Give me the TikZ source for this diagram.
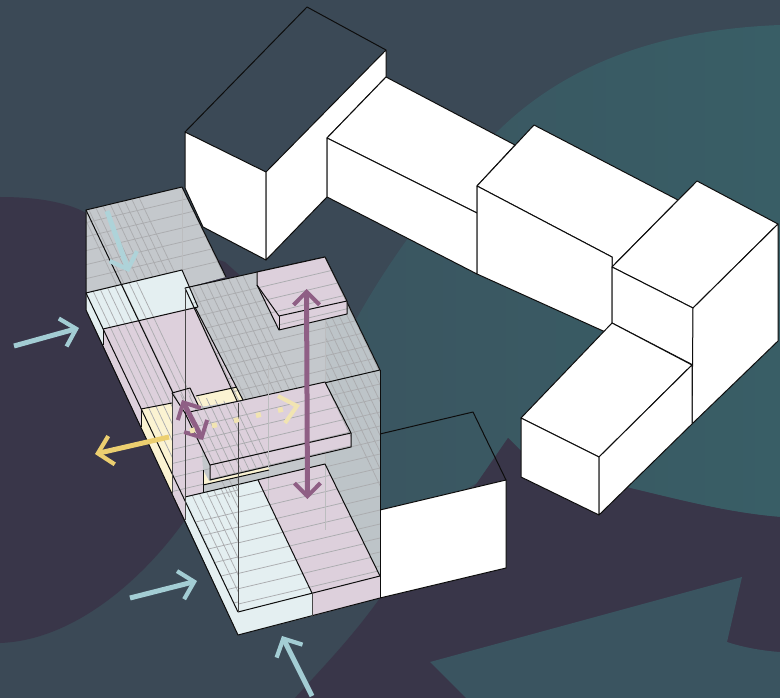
\documentclass[tikz,border=0pt]{standalone}
\usetikzlibrary{arrows.meta}
\definecolor{bgbase}{HTML}{3B4956}
\definecolor{bgpurple}{HTML}{393649}
\definecolor{bgteal}{HTML}{3A5560}
\definecolor{bgtealb}{HTML}{395E66}
\definecolor{bgarrow}{HTML}{3A5460}
\definecolor{glass}{HTML}{C4C8CC}
\definecolor{glassb}{HTML}{BDC4C8}
\definecolor{pinkf}{HTML}{DDD0DC}
\definecolor{palef}{HTML}{E4EFF1}
\definecolor{yellowf}{HTML}{FBF3D2}
\definecolor{gridc}{HTML}{ABACAF}
\definecolor{tealar}{HTML}{A3CDD4}
\definecolor{pinkar}{HTML}{8F5F85}
\definecolor{yellowar}{HTML}{ECCF70}
\definecolor{dotar}{HTML}{F1E4B2}
\newcommand\slopes[4]{\foreach \k in {0,...,#3}{\draw[gl] ({#1-400},{#2+\k*#4+94.4}) -- ({#1+400},{#2+\k*#4-94.4});}}
\newcommand\diags[4]{\foreach \k in {0,...,#3}{\draw[gl] ({#1+\k*#4-150},{#2-315}) -- ({#1+\k*#4+150},{#2+315});}}
\tikzset{
  edge/.style={draw=black!95,line width=1pt,line join=round},
  wall/.style={edge,fill=white},
  gl/.style={draw=gridc,line width=.75pt},
  vline/.style={draw=black!72,line width=1pt},
  faint/.style={draw=gridc!80,line width=.75pt},
  ar/.style={line width=5pt},
  tealarrow/.style={ar,draw=tealar,-{Straight Barb[length=14pt,width=29pt,line width=4.2pt]}},
  yarrow/.style={ar,draw=yellowar,-{Straight Barb[length=14pt,width=29pt,line width=4.2pt]}},
  parrow/.style={ar,draw=pinkar,{Straight Barb[length=13pt,width=26pt,line width=4pt]}-{Straight Barb[length=13pt,width=26pt,line width=4pt]}}
}
\begin{document}
\begin{tikzpicture}[x=1pt,y=-1pt]
\useasboundingbox (0,0) rectangle (780,698);
\clip (0,0) rectangle (780,698);
% background
\fill[bgbase] (0,0) rectangle (780,698);
\shade[left color=bgteal,right color=bgtealb] (780,25) .. controls (650,30) and (550,70) .. (480,150) .. controls (430,205) and (380,270) .. (340,350) -- (330,560) -- (477,483) -- (508,438) -- (533,463) -- (630,488) .. controls (680,500) and (730,513) .. (780,517) -- cycle;
\fill[bgpurple] (0,197) .. controls (40,197) and (70,203) .. (90,215) -- (225,262) -- (245,280) -- (185,520) .. controls (150,570) and (80,640) .. (0,643) -- cycle;
\fill[bgpurple] (508,438) -- (533,463) -- (630,488) .. controls (680,500) and (730,513) .. (780,517) -- (780,698) -- (295,698) .. controls (320,670) and (350,640) .. (380,598) -- (477,483) -- cycle;
\fill[bgarrow] (430,662) -- (742,577) -- (727,642) .. controls (745,648) and (765,651) .. (780,652) -- (780,698) -- (466,698) -- cycle;
% white blocks
\draw[edge] (185,132) -- (307,7) -- (386,50);
\draw[wall] (185,132) -- (266,172) -- (266,260) -- (203,227) -- (185,188) -- cycle;
\draw[wall] (266,172) -- (386,50) -- (386,77) -- (327,138) -- (327,197) -- (266,260) -- cycle;
\draw[wall] (327,138) -- (386,77) -- (515,145) -- (477,186) -- (477,213) -- cycle;
\draw[wall] (327,138) -- (477,213) -- (477,274) -- (327,197) -- cycle;
\draw[wall] (477,186) -- (534,125) -- (678,200) -- (612,267) -- (612,257) -- cycle;
\draw[wall] (477,186) -- (612,257) -- (612,335) -- (477,274) -- cycle;
\draw[wall] (612,267) -- (697,181) -- (778,224) -- (693,308) -- cycle;
\draw[wall] (612,267) -- (693,308) -- (693,365) -- (612,323) -- cycle;
\draw[wall] (693,308) -- (778,224) -- (778,341) -- (692,424) -- cycle;
\draw[wall] (521,418) -- (612,323) -- (692,365) -- (599,457) -- cycle;
\draw[wall] (521,418) -- (599,457) -- (599,515) -- (521,477) -- cycle;
\draw[wall] (599,457) -- (692,365) -- (692,424) -- (599,515) -- cycle;
\draw[edge] (380,434) -- (473,412) -- (506,480);
\draw[wall] (380,510) -- (506,480) -- (506,568) -- (380,598) -- cycle;
% rear glass
\fill[glass] (86,210) -- (182,187) -- (226,277) -- (185,288) -- (182,270) -- (86,293) -- cycle;
\begin{scope}
\clip (86,210) -- (182,187) -- (226,277) -- (185,288) -- (182,270) -- (86,293) -- cycle;
\slopes{182}{200}{5}{14}
\diags{182}{187}{6}{8}
\diags{70}{187}{8}{8}
\draw[faint] (182,187) -- (182,270);
\end{scope}
\fill[glass] (185,288) -- (325,257) -- (380,370) -- (380,576) -- (185,520) -- cycle;
\fill[glassb] (325,257) -- (380,370) -- (380,576) -- (325,464) -- cycle;
% floors and faces
\fill[palef] (86,293) -- (182,270) -- (198,307) -- (103,329) -- cycle;
\fill[palef] (86,293) -- (103,329) -- (103,345) -- (86,310) -- cycle;
\fill[pinkf] (103,329) -- (195,307) -- (243,400) -- (199,407) -- (203,470) -- (203,493) -- (185,497) -- (185,520) -- (172,494) -- (172,403) -- (141,409) -- (141,427) -- (103,345) -- cycle;
\fill[yellowf] (141,409) -- (172,403) -- (172,494) -- (141,427) -- cycle;
\fill[yellowf] (196,396) -- (237,387) -- (243,400) -- (199,407) -- cycle;
\fill[palef] (185,497) -- (258,480) -- (312,593) -- (238,612) -- cycle;
\fill[palef] (185,497) -- (238,612) -- (238,635) -- (185,520) -- cycle;
\fill[palef] (238,612) -- (312,593) -- (312,616) -- (238,635) -- cycle;
\fill[pinkf] (258,480) -- (325,464) -- (380,576) -- (312,593) -- cycle;
\fill[pinkf] (312,593) -- (380,576) -- (380,598) -- (312,616) -- cycle;
% grids
\begin{scope}
\clip (86,293) -- (138,281) -- (195,395) -- (172,403) -- (172,494) -- (141,427) -- (103,345) -- cycle;
\diags{94}{293}{6}{8}
\end{scope}
\begin{scope}
\clip (103,329) -- (195,307) -- (198,320) -- (103,345) -- cycle;
\slopes{182}{280}{1}{14}
\end{scope}
\begin{scope}
\clip (185,288) -- (325,257) -- (380,370) -- (238,403) -- cycle;
\slopes{325}{272}{7}{14}
\diags{185}{288}{8}{8}
\diags{325}{257}{6}{8}
\end{scope}
\begin{scope}
\clip (325,257) -- (380,370) -- (380,576) -- (325,464) -- cycle;
\slopes{380}{384}{13}{14}
\diags{325}{257}{6}{8}
\diags{325}{370}{6}{8}
\end{scope}
\begin{scope}
\clip (172,393) -- (238,403) -- (238,497) -- (172,497) -- cycle;
\slopes{238}{420}{5}{14}
\diags{180}{393}{7}{8}
\end{scope}
\begin{scope}
\clip (185,497) -- (238,485) -- (238,612) -- cycle;
\diags{193}{497}{6}{8}
\slopes{238}{512}{6}{15}
\end{scope}
\begin{scope}
\clip (238,485) -- (325,464) -- (380,576) -- (238,612) -- cycle;
\slopes{238}{497}{7}{15.3}
\end{scope}
\draw[faint] (268,365) -- (268,500);
\draw[faint] (325,257) -- (325,530);
% edges of glass and floors
\draw[edge] (86,293) -- (86,210) -- (182,187) -- (226,277);
\draw[edge] (86,210) -- (173,393);
\draw[edge] (86,293) -- (182,270) -- (198,307);
\draw[edge] (103,329) -- (198,307);
\draw[edge] (86,293) -- (238,612);
\draw[edge] (86,293) -- (86,310) -- (238,635) -- (380,598);
\draw[edge] (103,329) -- (103,345);
\draw[edge] (195,307) -- (243,400);
\draw[edge] (141,409) -- (172,403);
\draw[edge] (141,409) -- (141,427);
\draw[edge] (196,396) -- (237,387);
\draw[edge] (185,497) -- (325,464) -- (380,576);
\draw[edge] (258,480) -- (312,593);
\draw[edge] (238,612) -- (380,576);
\draw[vline] (312,593) -- (312,616);
\draw[edge] (185,288) -- (325,257) -- (380,370) -- (238,403) -- (185,288);
\draw[edge] (380,370) -- (380,598);
\draw[vline] (185,288) -- (185,520);
\draw[vline] (172,393) -- (172,494);
% pink box on top
\fill[pinkf] (257,272) -- (325,257) -- (347,301) -- (347,314) -- (279,330) -- (257,285) -- cycle;
\begin{scope}
\clip (257,272) -- (325,257) -- (347,301) -- (347,314) -- (279,330) -- (257,285) -- cycle;
\slopes{325}{272}{4}{14}
\diags{325}{257}{4}{8}
\end{scope}
\draw[edge] (257,285) -- (257,272) -- (325,257) -- (347,301) -- (279,316) -- cycle;
\draw[edge] (257,285) -- (279,330) -- (347,314) -- (347,301);
\draw[edge] (279,316) -- (279,330);
% slab
\fill[yellowf] (203,470) -- (209,481) -- (269,467) -- (269,470) -- (203,485) -- cycle;
\draw[edge] (203,470) -- (203,493);
\draw[edge] (203,485) -- (269,470);
\fill[pinkf] (185,413) -- (325,382) -- (351,433) -- (351,447) -- (210,480) -- (210,465) -- cycle;
\begin{scope}
\clip (185,413) -- (325,382) -- (351,433) -- (351,447) -- (210,480) -- (210,465) -- cycle;
\slopes{325}{396}{6}{14}
\diags{190}{413}{7}{8}
\diags{325}{382}{3}{8}
\end{scope}
\draw[edge] (185,413) -- (325,382) -- (351,433) -- (210,465) -- cycle;
\draw[edge] (210,465) -- (210,480) -- (351,447) -- (351,433);
\draw[edge] (172,393) -- (190,388) -- (199,407);
\draw[edge] (172,393) -- (185,413);
\draw[vline] (238,403) -- (238,612);
\draw[faint] (268,385) -- (268,468);
% arrows
\draw[tealarrow,draw=tealar!88!white] (107,211) -- (129,272);
\draw[tealarrow] (14,346) -- (79,328);
\draw[tealarrow] (130,598) -- (197,581);
\draw[tealarrow] (312,696) -- (282,636);
\draw[parrow] (306.5,289) -- (307.5,499);
\draw[parrow] (182,400) -- (203,440);
\draw[yarrow] (169,437) -- (95,454);
\draw[dotar,line width=5pt,dash pattern=on 5pt off 17.6pt] (190,431) -- (297,406);
\draw[dotar,line width=4pt] (278,396) -- (297,406) -- (285,423);
\end{tikzpicture}
\end{document}
